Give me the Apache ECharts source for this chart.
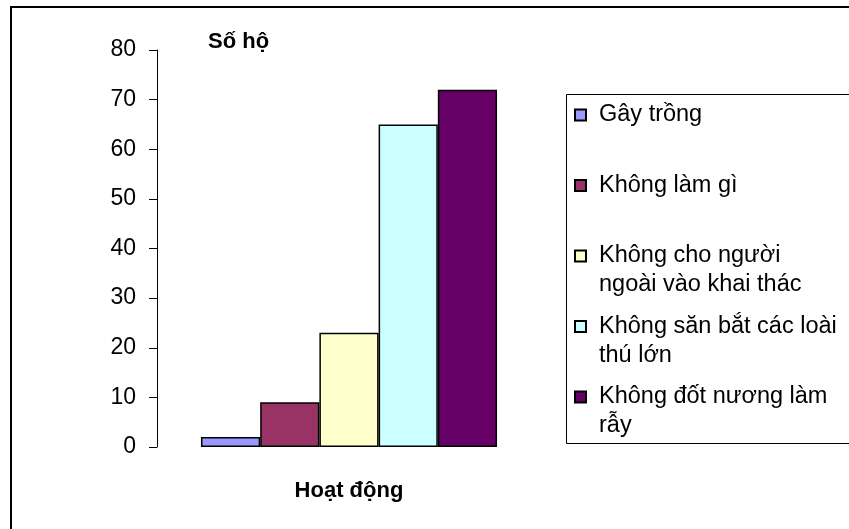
<!DOCTYPE html>
<html>
<head>
<meta charset="utf-8">
<script src="https://cdn.jsdelivr.net/npm/echarts@6/dist/echarts.min.js"></script>
<style>
  html, body { margin: 0; padding: 0; background: #fff; }
  #chart { width: 849px; height: 529px; }
</style>
</head>
<body>
<div id="chart"></div>
<script>
// Activities and number of households for each
const activities = [
  'Gây trồng',
  'Không làm gì',
  'Không cho người ngoài vào khai thác',
  'Không săn bắt các loài thú lớn',
  'Không đốt nương làm rẫy'
];
const households = [2, 9, 23, 65, 72];
// Legend text as it wraps in the legend box
const legendLines = [
  ['Gây trồng'],
  ['Không làm gì'],
  ['Không cho người', 'ngoài vào khai thác'],
  ['Không săn bắt các loài', 'thú lớn'],
  ['Không đốt nương làm', 'rẫy']
];
const yTicks = [0, 10, 20, 30, 40, 50, 60, 70, 80];
const palette = ['#9999FF', '#993366', '#FFFFCC', '#CCFFFF', '#660066'];

const FONT = '"Liberation Sans", Arial, sans-serif';
const LINE_H = 29;

const chart = echarts.init(document.getElementById('chart'), null, { renderer: 'canvas' });

const series = activities.map((name, i) => ({
  name: name,
  type: 'bar',
  data: [households[i]],
  barGap: '0%',
  barCategoryGap: '22.9%',
  itemStyle: { color: palette[i], borderColor: '#000', borderWidth: 1.5 },
  emphasis: { disabled: true }
}));

chart.setOption({
  animation: false,
  backgroundColor: '#fff',
  textStyle: { fontFamily: FONT },
  grid: { left: 157, right: 308, top: 50, bottom: 82 },
  xAxis: {
    type: 'category',
    data: [''],
    axisLine: { show: false },
    axisTick: { show: false },
    axisLabel: { show: false },
    name: 'Hoạt động',
    nameLocation: 'middle',
    nameGap: 33,
    nameTextStyle: { fontFamily: FONT, fontWeight: 'bold', fontSize: 22, color: '#000' }
  },
  yAxis: {
    type: 'value',
    min: yTicks[0],
    max: yTicks[yTicks.length - 1],
    interval: 10,
    axisLine: { show: true, lineStyle: { color: '#000', width: 1 } },
    axisTick: { show: true, inside: false, length: 8, lineStyle: { color: '#000' } },
    axisLabel: { color: '#000', fontSize: 23, fontFamily: FONT, margin: 21 },
    splitLine: { show: false },
    name: 'Số hộ',
    nameLocation: 'end',
    nameGap: -3,
    nameTextStyle: {
      fontFamily: FONT, fontWeight: 'bold', fontSize: 22, color: '#000',
      align: 'left', verticalAlign: 'bottom', padding: [0, 0, 0, 51]
    }
  },
  legend: {
    orient: 'vertical',
    left: 574,
    top: 115 - 1.5 * LINE_H,
    padding: 0,
    itemGap: 70.5 - 3 * LINE_H,
    itemWidth: 11,
    itemHeight: 11,
    icon: 'rect',
    selectedMode: false,
    data: activities,
    formatter: function (name) {
      const lines = legendLines[activities.indexOf(name)];
      // first line sits level with the swatch
      return '\n' + lines[0] + '\n' + (lines[1] || ' ');
    },
    textStyle: { fontFamily: FONT, fontSize: 23.5, color: '#000', lineHeight: LINE_H, padding: [0, 0, 0, 8] }
  },
  graphic: [
    {
      type: 'rect',
      silent: true,
      shape: { x: 11, y: 7, width: 900, height: 600 },
      style: { fill: 'none', stroke: '#000', lineWidth: 2 }
    },
    {
      type: 'rect',
      silent: true,
      shape: { x: 566.5, y: 94.5, width: 400, height: 349 },
      style: { fill: 'none', stroke: '#000', lineWidth: 1 }
    }
  ],
  series: series
});
</script>
</body>
</html>
